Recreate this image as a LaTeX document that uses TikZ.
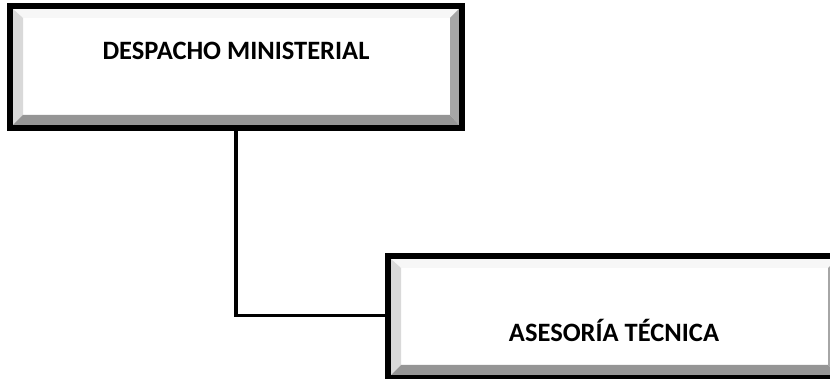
\documentclass[tikz,border=0pt]{standalone}
\usepackage{fontspec}
\setmainfont{Carlito}
\usetikzlibrary{calc}
\definecolor{bevtop}{HTML}{F7F7F7}
\definecolor{bevleft}{HTML}{D9D9D9}
\definecolor{bevright}{HTML}{A6A6A6}
\definecolor{bevbottom}{HTML}{959595}
\tikzset{
  bevelbox/.style={rectangle, draw=black, line width=6pt, fill=white,
    minimum width=452pt, minimum height=122pt, inner sep=0pt,
    font=\fontsize{26.5}{31}\selectfont\bfseries,
    path picture={
      \coordinate (bl) at ([shift={(3pt,3pt)}]path picture bounding box.south west);
      \coordinate (tr) at ([shift={(-3pt,-3pt)}]path picture bounding box.north east);
      \coordinate (tl) at (bl|-tr);
      \coordinate (br) at (tr|-bl);
      \fill[bevtop] (tl) -- (tr) -- ($(tr)+(-9pt,-9pt)$) -- ($(tl)+(9pt,-9pt)$) -- cycle;
      \fill[bevleft] (tl) -- (bl) -- ($(bl)+(10pt,10pt)$) -- ($(tl)+(10pt,-9pt)$) -- cycle;
      \fill[bevright] (tr) -- (br) -- ($(br)+(-9pt,10pt)$) -- ($(tr)+(-9pt,-9pt)$) -- cycle;
      \fill[bevbottom] (bl) -- (br) -- ($(br)+(-9pt,10pt)$) -- ($(bl)+(10pt,10pt)$) -- cycle;
    }},
  link/.style={draw=black, line width=3.3pt}
}
\begin{document}
\begin{tikzpicture}[x=1pt,y=1pt]
\useasboundingbox (0,0) rectangle (830,379);
\clip (0,0) rectangle (830,379);
\node[bevelbox, text height=10pt, text depth=24pt] (dm) at (236,312) {DESPACHO MINISTERIAL};
\node[bevelbox, text height=50pt, text depth=0pt] (at) at (614,62) {ASESORÍA TÉCNICA};
\draw[link] (dm.south) |- ([yshift=1.5pt]at.west);
\end{tikzpicture}
\end{document}
